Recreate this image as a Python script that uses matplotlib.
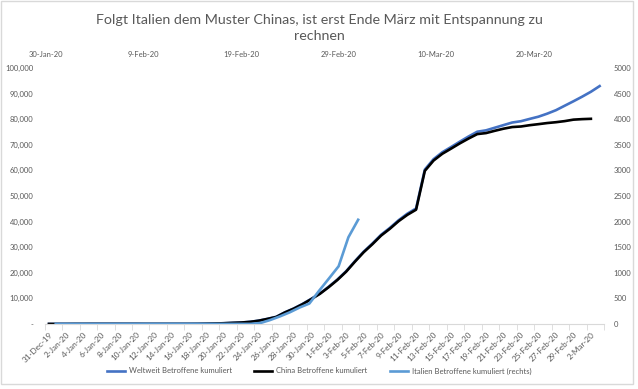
import matplotlib
matplotlib.use('Agg')
import matplotlib.pyplot as plt
import matplotlib.dates as mdates
from matplotlib.patches import Rectangle
import numpy as np
import pandas as pd

plt.rcParams['font.family'] = ['Lato', 'DejaVu Sans']

# bottom axis: daily categories 31-Dec-19 .. 3-Mar-20
categories = pd.date_range('2019-12-31', '2020-03-03', freq='D')

weltweit = [27, 27, 27, 44, 44, 59, 59, 59, 59, 59, 59, 41, 41, 42, 42, 43,
            48, 65, 124, 201, 295, 446, 580, 844, 1312, 2015, 2800, 4579,
            6061, 7816, 9810, 11944, 14553, 17388, 20626, 24536, 28245,
            31426, 34863, 37541, 40532, 43095, 45129, 60327, 64389, 67085,
            69120, 71215, 73240, 75109, 75649, 76665, 77690, 78705, 79219,
            80117, 80982, 82161, 83515, 85260, 86993, 88800, 90717, 92938]

china = [27, 27, 27, 44, 44, 59, 59, 59, 59, 59, 59, 41, 41, 41, 41, 41,
         45, 62, 121, 198, 291, 440, 571, 830, 1287, 1975, 2744, 4515,
         5974, 7711, 9692, 11791, 14380, 17205, 20438, 24324, 28018,
         31161, 34546, 37198, 40171, 42638, 44653, 59804, 63851, 66492,
         68500, 70548, 72436, 74185, 74576, 75465, 76288, 76936, 77150,
         77658, 78064, 78497, 78824, 79251, 79824, 80026, 80151]

# Italy on secondary axes (own date axis on top, values on right)
italien_dates = pd.date_range('2020-01-31', '2020-03-02', freq='D')
italien = [2, 2, 2, 2, 2, 2, 2,
           3, 3, 3, 3, 3, 3, 3, 3, 3, 3, 3, 3, 3, 3,
           20, 79, 150, 229, 322, 400, 650, 888, 1128, 1694, 2036]

top_ticks = pd.date_range('2020-01-30', periods=6, freq='10D')

title = 'Folgt Italien dem Muster Chinas, ist erst Ende März mit Entspannung zu\nrechnen'
labels = ['Weltweit Betroffene kumuliert', 'China Betroffene kumuliert',
          'Italien Betroffene kumuliert (rechts)']

grey = '#595959'
W, H = 638, 389
fig = plt.figure(figsize=(W / 100, H / 100), dpi=100)
rect = [44.6 / W, 65 / H, 559.4 / W, 256 / H]
ax = fig.add_axes(rect)
ax2 = fig.add_axes(rect, frameon=False)
ax2.patch.set_visible(False)

x = np.arange(len(categories))
l1, = ax.plot(x[:len(weltweit)], weltweit, color='#4472C4', lw=1.9)
l2, = ax.plot(x[:len(china)], china, color='black', lw=1.9)

ax.set_xlim(-0.5, len(categories) - 0.5)
ax.set_ylim(0, 100000)
yt = np.arange(0, 100001, 10000)
ax.set_yticks(yt)
ax.set_yticklabels(['-' if v == 0 else f'{v:,}' for v in yt])
ax.set_xticks(x[::2])
ax.set_xticklabels([f"{d.day}-{d.strftime('%b-%y')}" for d in categories[::2]],
                   rotation=45, ha='right', va='top', rotation_mode='anchor')
ax.set_xticks(np.arange(-0.5, len(categories), 2), minor=True)
for s in ['top', 'right', 'left']:
    ax.spines[s].set_visible(False)
ax.spines['bottom'].set_color('#D9D9D9')
ax.tick_params(axis='y', length=0, labelsize=5.5, colors=grey, pad=8)
ax.tick_params(axis='x', which='major', length=0, labelsize=5.9, colors=grey, pad=5)
ax.tick_params(axis='x', which='minor', length=4, color='#D9D9D9')

l3, = ax2.plot(italien_dates, italien, color='#5B9BD5', lw=1.9)
x0 = mdates.date2num(pd.Timestamp('2020-01-30'))
ax2.set_xlim(x0 - 0.14, x0 + 57.2)
ax2.set_ylim(0, 5000)
ax2.xaxis.tick_top()
ax2.yaxis.tick_right()
ax2.set_xticks(top_ticks)
ax2.set_xticklabels([f"{d.day}-{d.strftime('%b-%y')}" for d in top_ticks])
ax2.set_yticks(np.arange(0, 5001, 500))
ax2.tick_params(length=0, labelsize=5.5, colors=grey)
ax2.tick_params(axis='y', pad=7)
ax2.tick_params(axis='x', pad=7)

fig.text(0.5, 1 - 28 / H, title, ha='center', va='center', fontsize=10.3,
         color=grey, linespacing=1.5)

fig.legend([l1, l2, l3], labels, loc='center', bbox_to_anchor=(0.5, 18 / H),
           ncol=3, frameon=False, fontsize=5.5, handlelength=2.4,
           handletextpad=0.5, columnspacing=2.9, labelcolor=grey)

fig.patches.append(Rectangle((1 / W, 5 / H), 632 / W, 383 / H, transform=fig.transFigure,
                             fill=False, edgecolor='#D9D9D9', lw=1))

fig.savefig('out.png', dpi=100)
